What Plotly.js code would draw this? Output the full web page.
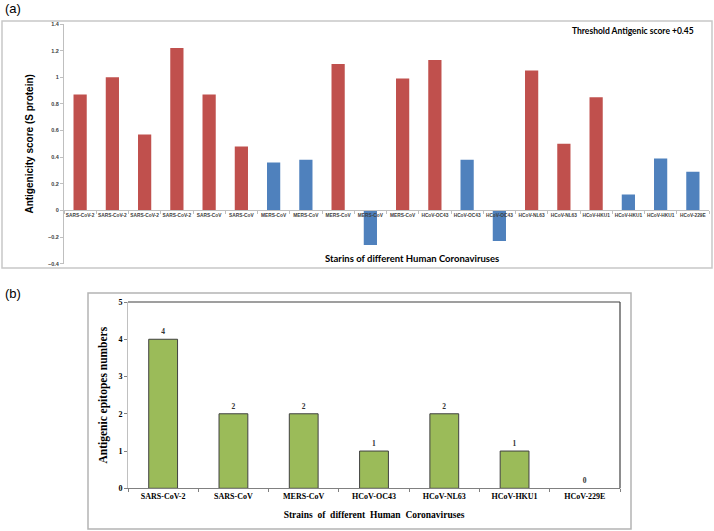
<!DOCTYPE html>
<html>
<head>
<meta charset="utf-8">
<script src="https://cdn.plot.ly/plotly-3.0.1.min.js"></script>
<style>
  html, body { margin: 0; padding: 0; background: #fff; }
  #chart { width: 714px; height: 531px; }
</style>
</head>
<body>
<div id="chart"></div>
<script>
// panel (a): antigenicity score of the S protein per strain
const strainsA = [
  'SARS-CoV-2', 'SARS-CoV-2', 'SARS-CoV-2', 'SARS-CoV-2',
  'SARS-CoV', 'SARS-CoV',
  'MERS-CoV', 'MERS-CoV', 'MERS-CoV', 'MERS-CoV', 'MERS-CoV',
  'HCoV-OC43', 'HCoV-OC43', 'HCoV-OC43',
  'HCoV-NL63', 'HCoV-NL63',
  'HCoV-HKU1', 'HCoV-HKU1', 'HCoV-HKU1',
  'HCoV-229E'
];
const scoresA = [0.87, 1.0, 0.57, 1.22, 0.87, 0.48, 0.36, 0.38, 1.10, -0.26,
                 0.99, 1.13, 0.38, -0.23, 1.05, 0.50, 0.85, 0.12, 0.39, 0.29];
const threshold = 0.45;

// panel (b): number of antigenic epitopes per strain
const strainsB = ['SARS-CoV-2', 'SARS-CoV', 'MERS-CoV', 'HCoV-OC43', 'HCoV-NL63', 'HCoV-HKU1', 'HCoV-229E'];
const epitopesB = [4, 2, 2, 1, 2, 1, 0];

function drawChart() {
  const W = 714, H = 531;
  const px = x => x / W;
  const py = y => 1 - y / H;

  const red = '#C0504D', blue = '#4F81BD', green = '#9BBB59';
  const sans = 'Liberation Sans, Arial, sans-serif';
  const serif = 'Liberation Serif, Times New Roman, serif';
  const calibri = 'Lato, Open Sans, sans-serif';

  const idx = strainsA.map((s, i) => i);

  const data = [
    {
      type: 'bar',
      x: idx,
      y: scoresA,
      xaxis: 'x', yaxis: 'y',
      marker: { color: scoresA.map(v => v >= threshold ? red : blue) },
      hoverinfo: 'y'
    },
    {
      type: 'bar',
      x: strainsB,
      y: epitopesB,
      xaxis: 'x2', yaxis: 'y2',
      marker: {
        color: green,
        line: { color: '#404040', width: epitopesB.map(v => v > 0 ? 1 : 0) }
      },
      text: epitopesB.map(String),
      textposition: 'outside',
      cliponaxis: false,
      textfont: { family: serif, size: 7.5, weight: 'bold', color: '#333' }
    }
  ];

  // y of panel (a) domain
  const aTop = 24, aBot = 263.7;
  const yA0 = py(aBot), yA1 = py(aTop);
  const zeroPos = yA0 + (0.4 / 1.8) * (yA1 - yA0);

  const layout = {
    width: W, height: H,
    margin: { l: 0, r: 0, t: 0, b: 0 },
    paper_bgcolor: '#fff', plot_bgcolor: 'rgba(0,0,0,0)',
    showlegend: false,
    bargap: 0.59,
    xaxis: {
      domain: [px(64), px(709)],
      anchor: 'free', position: zeroPos,
      range: [-0.5, strainsA.length - 0.5],
      tickmode: 'array', tickvals: idx, ticktext: strainsA,
      tickangle: 0, ticks: '',
      showline: true, linecolor: '#bfbfbf', linewidth: 1,
      showgrid: false, zeroline: false,
      tickfont: { family: sans, size: 4.8, weight: 'bold', color: '#404040' },
      minor: { tick0: 0.5, dtick: 1, ticks: 'outside', ticklen: 3, tickcolor: '#bfbfbf' }
    },
    yaxis: {
      domain: [yA0, yA1],
      anchor: 'x',
      range: [-0.4, 1.4], dtick: 0.2,
      ticks: 'outside', ticklen: 3, tickcolor: '#bfbfbf',
      showline: true, linecolor: '#bfbfbf', linewidth: 1,
      showgrid: false, zeroline: false,
      tickfont: { family: sans, size: 5.5, weight: 'bold', color: '#404040' },
      title: {
        text: 'Antigenicity score (S protein)',
        font: { family: sans, size: 10, weight: 'bold', color: '#000' },
        standoff: 12
      }
    },
    xaxis2: {
      domain: [px(128), px(620)],
      anchor: 'y2',
      type: 'category',
      tickson: 'boundaries', ticks: 'outside', ticklen: 3, tickcolor: '#808080',
      tickangle: 0,
      showline: true, linecolor: '#808080', linewidth: 1,
      showgrid: false, zeroline: false,
      tickfont: { family: serif, size: 8, weight: 'bold', color: '#000' },
      title: {
        text: 'Strains  of  different  Human  Coronaviruses',
        font: { family: serif, size: 9.5, weight: 'bold', color: '#000' },
        standoff: 11
      }
    },
    yaxis2: {
      domain: [py(488.3), py(302)],
      anchor: 'x2',
      range: [0, 5], dtick: 1,
      ticks: 'outside', ticklen: 3, tickcolor: '#808080',
      showline: true, linecolor: '#c0c0c0', linewidth: 1,
      showgrid: false, zeroline: false,
      tickfont: { family: serif, size: 8, weight: 'bold', color: '#000' },
      title: {
        text: 'Antigenic epitopes numbers',
        font: { family: serif, size: 11.5, weight: 'bold', color: '#000' },
        standoff: 8
      }
    },
    shapes: [
      // outer frames
      { type: 'rect', xref: 'paper', yref: 'paper', x0: px(2), x1: px(712), y0: py(268), y1: py(21),
        line: { color: '#c8c8c8', width: 1.5 } },
      { type: 'rect', xref: 'paper', yref: 'paper', x0: px(88), x1: px(631), y0: py(529), y1: py(293),
        line: { color: '#b4b4b4', width: 1.5 } },
      // dark top and right border of panel (b) plot area
      { type: 'line', xref: 'x2 domain', yref: 'y2 domain', x0: 0, x1: 1, y0: 1, y1: 1,
        line: { color: '#404040', width: 1.2 } },
      { type: 'line', xref: 'x2 domain', yref: 'y2 domain', x0: 1, x1: 1, y0: 0, y1: 1,
        line: { color: '#404040', width: 1.2 } }
    ],
    annotations: [
      { text: '(a)', xref: 'paper', yref: 'paper', x: px(3), y: py(8), xanchor: 'left', yanchor: 'middle',
        showarrow: false, font: { family: sans, size: 13, color: '#000' } },
      { text: '(b)', xref: 'paper', yref: 'paper', x: px(3), y: py(293), xanchor: 'left', yanchor: 'middle',
        showarrow: false, font: { family: sans, size: 13, color: '#000' } },
      { text: 'Threshold Antigenic score +0.45', xref: 'paper', yref: 'paper', x: px(633), y: py(31),
        xanchor: 'center', yanchor: 'middle', showarrow: false,
        font: { family: calibri, size: 8.5, weight: 'bold', color: '#000' } },
      { text: 'Starins of different Human Coronaviruses', xref: 'paper', yref: 'paper', x: px(412), y: py(258),
        xanchor: 'center', yanchor: 'middle', showarrow: false,
        font: { family: calibri, size: 9.5, weight: 'bold', color: '#000' } }
    ]
  };

  Plotly.newPlot('chart', data, layout, { displayModeBar: false, staticPlot: true });
}

document.addEventListener('DOMContentLoaded', drawChart);
</script>
</body>
</html>
